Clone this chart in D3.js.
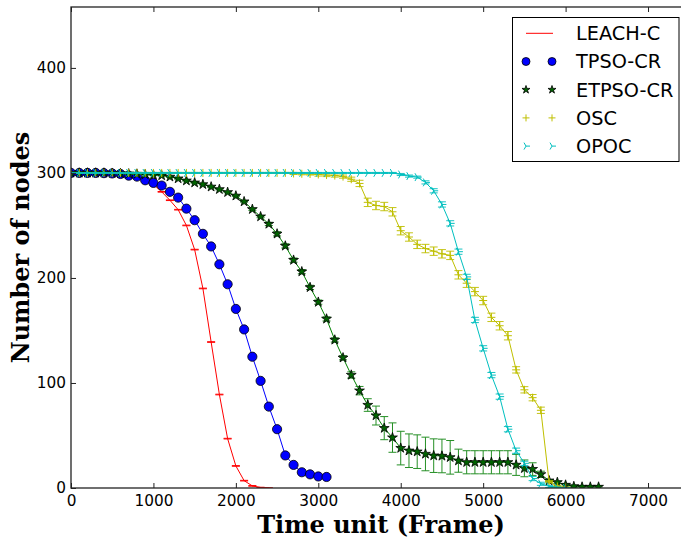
<!DOCTYPE html>
<html>
<head>
<meta charset="utf-8">
<script src="https://cdn.jsdelivr.net/npm/d3@7/dist/d3.min.js"></script>
<style>
  html, body { margin: 0; padding: 0; background: #fff; }
  svg { display: block; }
</style>
</head>
<body>
<svg id="chart" width="681" height="541"></svg>
<script>
// ---------- data ----------
const xTicks = [0, 1000, 2000, 3000, 4000, 5000, 6000, 7000];
const yTicks = [0, 100, 200, 300, 400];
const seriesNames = ["LEACH-C", "TPSO-CR", "ETPSO-CR", "OSC", "OPOC"];
const timeStep = 100;

const leachC = [300,300,300,300,299.8,299.5,299,298,296,293,289,282,274,265,250,227,190,139,89,47,21,7,2,0.5,0];
const leachCErr = [0.2,0.2,0.2,0.2,0.2,0.2,0.3,0.3,0.3,0.3,0.3,0.3,0.3,0.3,0.3,0.3,0.3,0.3,0.3,0.3,0.3,0.3,0.3,0.2,0.2];

const tpsoCR = [300,300,300,300,299.8,299.5,299,297.4,296.5,293,290.5,288,282,276.5,266,255,242,230,213,194,170.5,151,125,102,77.5,56,31,22,15,13,11,10.5];

const etpsoCR = [300,300,300,300,300,299.8,299.5,299.2,299,298.5,298,297.5,296.3,294.6,292.6,290.7,289.1,286.8,284.4,281.6,278.2,272.7,265.4,258.4,251.4,242,230.5,217,206,191,177,161,141,124,107.6,92.7,79,69,57,48,38,35.5,34.6,32.4,30.8,30.5,29.2,26,24.5,24.5,24.5,24.5,24.5,24.5,22,18.7,18,13,7,5.4,2.9,1.5,1,1,1];
const etpsoCRErr = [0.5,0.5,0.5,0.5,0.5,0.5,0.5,0.5,0.5,0.5,0.5,0.5,0.5,0.5,0.5,0.5,0.5,0.5,0.5,0.5,0.5,0.5,1,1,1.5,2,2,2,2,2,2,2,2,2,3,4,6,9,11,14,16,16,16,16,16,16,16,11,11,11,11,11,11,11,10,8,6,3,1,1,1,1,1,1,1];

const osc = [300,300,300,300,300,300,300,300,300,300,300,300,300,300,300,300,300,300,300,300,300,300,300,300,300,300,300,299.5,299.2,299,298.5,298,297.5,296.5,294,290,272,269,268,263,245,239,232,228,225.5,223,221.5,203,195,187,178.5,162.5,154.5,145,112.5,93.5,86,74,6,1.5,0.5];
const oscErr = [0.5,0.5,0.5,0.5,0.5,0.5,0.5,0.5,0.5,0.5,0.5,0.5,0.5,0.5,0.5,0.5,0.5,0.5,0.5,0.5,0.5,0.5,0.5,0.5,0.5,0.5,0.5,1,1,1,1.5,1.5,1.5,1.5,2,3,4,4,4,4,4,4,4,4,4,4,4,4,4,4,4,4,4,4,3,3,3,3,1,1,0.5];

const opoc = [300,300,300,300,300,300,300,300,300,300,300,300,300,300,300,300,300,300,300,300,300,300,300,300,300,300,300,300,300,300,300,300,300,300,300,300,300,300,300,300,298.5,297,296,291,283,270,252,225,201,160,133,107.5,87,56,35.5,23.5,9,4,1.5,0.5,0];
const opocErr = [0.5,0.5,0.5,0.5,0.5,0.5,0.5,0.5,0.5,0.5,0.5,0.5,0.5,0.5,0.5,0.5,0.5,0.5,0.5,0.5,0.5,0.5,0.5,0.5,0.5,0.5,0.5,0.5,0.5,0.5,0.5,0.5,0.5,0.5,0.5,0.5,0.5,0.5,0.5,0.5,1,1,1,1.5,2,2.5,2.5,2.5,2.5,2.5,2.5,2.5,2.5,2.5,2.5,2,2,1.5,1,0.5,0.5];

const xLabel = "Time unit (Frame)";
const yLabel = "Number of nodes";

// ---------- setup ----------
const svg = d3.select("#chart");
const X0 = 71, X1 = 681, Y0 = 488, Y1 = 7;
const x = d3.scaleLinear().domain([0, 7400]).range([X0, X1]);
const y = d3.scaleLinear().domain([0, 458]).range([Y0, Y1]);

const tickFont = "'DejaVu Sans', sans-serif";

svg.append("defs").append("clipPath").attr("id", "clip")
  .append("rect").attr("x", X0).attr("y", Y1).attr("width", X1 - X0).attr("height", Y0 - Y1);

const plot = svg.append("g").attr("clip-path", "url(#clip)");

function toPts(vals, errs) {
  return vals.map((v, i) => ({ t: i * timeStep, v: v, e: errs ? errs[i] : 0 }));
}

const line = d3.line().x(d => x(d.t)).y(d => y(d.v));

function drawLine(pts, color) {
  plot.append("path").datum(pts).attr("d", line)
    .attr("fill", "none").attr("stroke", color).attr("stroke-width", 1);
}

function drawErr(pts, color, opacity) {
  const g = plot.append("g").attr("stroke", color).attr("stroke-width", 1).attr("opacity", opacity);
  const cw = 4;
  pts.forEach(d => {
    const a = y(d.v + d.e), b = y(d.v - d.e);
    g.append("line").attr("x1", x(d.t)).attr("x2", x(d.t)).attr("y1", a).attr("y2", b);
    g.append("line").attr("x1", x(d.t) - cw).attr("x2", x(d.t) + cw).attr("y1", a).attr("y2", a);
    g.append("line").attr("x1", x(d.t) - cw).attr("x2", x(d.t) + cw).attr("y1", b).attr("y2", b);
  });
}

const plusPath = r => `M${-r},0H${r}M0,${-r}V${r}`;
const triPath = r => `M0,0L${r},0M0,0L${-r/2},${-0.866*r}M0,0L${-r/2},${0.866*r}`;
const starPath = size => d3.symbol().type(d3.symbolStar).size(size)();

// LEACH-C
const pL = toPts(leachC, leachCErr);
drawLine(pL, "#ff0000");
drawErr(pL, "#ff0000", 1);

// TPSO-CR
const pT = toPts(tpsoCR);
drawLine(pT, "#0000ff");
plot.append("g").selectAll("circle").data(pT).join("circle")
  .attr("cx", d => x(d.t)).attr("cy", d => y(d.v)).attr("r", 4.6)
  .attr("fill", "#0000ff").attr("stroke", "#000").attr("stroke-width", 0.8);

// ETPSO-CR
const pE = toPts(etpsoCR, etpsoCRErr);
drawLine(pE, "#008000");
drawErr(pE, "#1a8a1a", 0.95);
plot.append("g").selectAll("path").data(pE).join("path")
  .attr("d", starPath(30))
  .attr("transform", d => `translate(${x(d.t)},${y(d.v)})`)
  .attr("fill", "#006400").attr("stroke", "#000").attr("stroke-width", 0.8);

// OSC
const pO = toPts(osc, oscErr);
drawLine(pO, "#bfbf00");
drawErr(pO, "#bfbf00", 0.9);
plot.append("g").selectAll("path").data(pO).join("path")
  .attr("d", plusPath(4))
  .attr("transform", d => `translate(${x(d.t)},${y(d.v)})`)
  .attr("fill", "none").attr("stroke", "#bfbf00").attr("stroke-width", 1);

// OPOC
const pP = toPts(opoc, opocErr);
drawLine(pP, "#00bfbf");
drawErr(pP, "#00bfbf", 0.9);
plot.append("g").selectAll("path").data(pP).join("path")
  .attr("d", triPath(4.5))
  .attr("transform", d => `translate(${x(d.t)},${y(d.v)})`)
  .attr("fill", "none").attr("stroke", "#00bfbf").attr("stroke-width", 1);

// ---------- axes ----------
const axB = svg.append("g").attr("transform", `translate(0,${Y0})`)
  .call(d3.axisBottom(x).tickValues(xTicks).tickFormat(d3.format("d")).tickSizeInner(-5).tickSizeOuter(0).tickPadding(7));
const axT = svg.append("g").attr("transform", `translate(0,${Y1})`)
  .call(d3.axisTop(x).tickValues(xTicks).tickFormat("").tickSizeInner(-5).tickSizeOuter(0));
const axL = svg.append("g").attr("transform", `translate(${X0},0)`)
  .call(d3.axisLeft(y).tickValues(yTicks).tickFormat(d3.format("d")).tickSizeInner(-5).tickSizeOuter(0).tickPadding(5));
[axB, axT, axL].forEach(a => {
  a.select(".domain").remove();
  a.selectAll(".tick line").attr("stroke", "#222").attr("stroke-width", 1);
  a.selectAll("text").attr("font-family", tickFont).attr("font-size", "15.3px").attr("fill", "#000");
});

svg.append("rect").attr("x", X0).attr("y", Y1).attr("width", X1 - X0 + 2).attr("height", Y0 - Y1)
  .attr("fill", "none").attr("stroke", "#222").attr("stroke-width", 1.3);

// axis labels
svg.append("text").attr("x", 381).attr("y", 533).attr("text-anchor", "middle")
  .attr("font-family", "'DejaVu Serif', serif").attr("font-weight", "bold").attr("font-size", "24px")
  .text(xLabel);
svg.append("text").attr("transform", "translate(29,247.5) rotate(-90)").attr("text-anchor", "middle")
  .attr("font-family", "'DejaVu Serif', serif").attr("font-weight", "bold").attr("font-size", "24px")
  .text(yLabel);

// ---------- legend ----------
const lg = svg.append("g");
lg.append("rect").attr("x", 512.5).attr("y", 17.5).attr("width", 166.5).attr("height", 144)
  .attr("fill", "#fff").attr("stroke", "#000").attr("stroke-width", 1);
const rowY = [33.3, 61.5, 89.7, 117.9, 146.1];
const mx = [526, 552];
lg.append("line").attr("x1", 526).attr("x2", 553).attr("y1", rowY[0]).attr("y2", rowY[0])
  .attr("stroke", "#ff0000").attr("stroke-width", 1);
mx.forEach(m => {
  lg.append("circle").attr("cx", m).attr("cy", rowY[1]).attr("r", 4)
    .attr("fill", "#0000ff").attr("stroke", "#000").attr("stroke-width", 0.8);
  lg.append("path").attr("d", starPath(20)).attr("transform", `translate(${m},${rowY[2]})`)
    .attr("fill", "#006400").attr("stroke", "#000").attr("stroke-width", 0.8);
  lg.append("path").attr("d", plusPath(3.5)).attr("transform", `translate(${m},${rowY[3]})`)
    .attr("fill", "none").attr("stroke", "#bfbf00").attr("stroke-width", 1);
  lg.append("path").attr("d", triPath(4)).attr("transform", `translate(${m},${rowY[4]})`)
    .attr("fill", "none").attr("stroke", "#00bfbf").attr("stroke-width", 1);
});
seriesNames.forEach((n, i) => {
  lg.append("text").attr("x", 576).attr("y", rowY[i]).attr("dy", "0.36em")
    .attr("font-family", tickFont).attr("font-size", "19.3px").attr("fill", "#000").text(n);
});
</script>
</body>
</html>
